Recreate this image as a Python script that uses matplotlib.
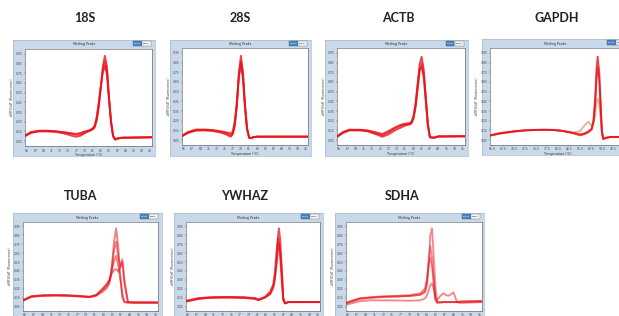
import matplotlib
matplotlib.use('Agg')
import matplotlib.pyplot as plt
from matplotlib.patches import Rectangle
import numpy as np

# ---------------- data (normalised -dF/dT melt peaks) ----------------
genes = ['18S', '28S', 'ACTB', 'GAPDH', 'TUBA', 'YWHAZ', 'SDHA']

t_18s = [64.5, 66, 68, 70, 72, 74, 76, 77, 78, 79, 80, 81, 81.5, 82, 82.5, 83, 83.5, 84, 84.5, 85, 85.5, 86, 86.5, 87, 88, 95.5]
r_18s_a = [0.105, 0.14, 0.155, 0.155, 0.15, 0.14, 0.125, 0.115, 0.12, 0.14, 0.15, 0.17, 0.19, 0.26, 0.4, 0.6, 0.82, 0.93, 0.82, 0.5, 0.25, 0.1, 0.065, 0.075, 0.085, 0.09]
r_18s_b = [0.1, 0.135, 0.15, 0.15, 0.145, 0.13, 0.105, 0.095, 0.105, 0.13, 0.155, 0.175, 0.2, 0.28, 0.42, 0.6, 0.78, 0.87, 0.78, 0.5, 0.26, 0.11, 0.07, 0.078, 0.085, 0.09]
r_18s_c = [0.11, 0.145, 0.158, 0.158, 0.152, 0.142, 0.13, 0.125, 0.135, 0.15, 0.16, 0.18, 0.21, 0.3, 0.45, 0.62, 0.76, 0.82, 0.74, 0.48, 0.24, 0.1, 0.068, 0.076, 0.085, 0.09]

t_28s = [64.5, 66, 68, 70, 72, 74, 75, 76, 76.5, 77, 77.5, 78, 78.5, 79, 79.5, 80, 80.5, 81, 81.5, 82, 83, 85, 95.5]
r_28s_a = [0.093, 0.13, 0.155, 0.155, 0.15, 0.135, 0.125, 0.11, 0.1, 0.12, 0.22, 0.42, 0.75, 0.92, 0.75, 0.42, 0.18, 0.075, 0.07, 0.08, 0.086, 0.086, 0.086]
r_28s_b = [0.09, 0.125, 0.148, 0.15, 0.145, 0.128, 0.115, 0.095, 0.085, 0.11, 0.2, 0.4, 0.7, 0.86, 0.72, 0.4, 0.17, 0.075, 0.07, 0.08, 0.086, 0.086, 0.086]
r_28s_c = [0.097, 0.135, 0.16, 0.16, 0.155, 0.142, 0.135, 0.125, 0.12, 0.14, 0.25, 0.45, 0.72, 0.82, 0.68, 0.38, 0.16, 0.08, 0.072, 0.08, 0.086, 0.086, 0.086]

t_actb = [64.5, 66, 67.5, 70, 72, 74, 75.5, 77, 78.5, 80, 81, 82, 82.5, 83, 83.5, 84, 84.5, 85, 85.5, 86, 86.5, 87, 88, 89, 95.5]
r_actb_a = [0.086, 0.13, 0.155, 0.155, 0.145, 0.12, 0.1, 0.13, 0.17, 0.2, 0.21, 0.22, 0.23, 0.28, 0.4, 0.6, 0.83, 0.91, 0.78, 0.5, 0.22, 0.08, 0.075, 0.088, 0.09]
r_actb_b = [0.083, 0.125, 0.15, 0.15, 0.14, 0.11, 0.085, 0.11, 0.15, 0.18, 0.2, 0.21, 0.22, 0.27, 0.38, 0.56, 0.76, 0.84, 0.74, 0.48, 0.21, 0.08, 0.075, 0.088, 0.09]
r_actb_c = [0.09, 0.135, 0.158, 0.158, 0.15, 0.13, 0.115, 0.145, 0.18, 0.21, 0.22, 0.225, 0.235, 0.29, 0.42, 0.62, 0.78, 0.8, 0.7, 0.45, 0.2, 0.08, 0.075, 0.088, 0.09]

t_gapdh = [64.5, 67, 70, 72.5, 75.1, 77, 78.9, 81, 83.5, 85.0, 86, 86.9, 87.7, 88.1, 88.5, 88.8, 89.05, 89.4, 89.7, 90.0, 90.3, 91.1, 92, 95.5]
r_gapdh_a = [0.097, 0.12, 0.138, 0.15, 0.155, 0.156, 0.155, 0.145, 0.12, 0.1, 0.11, 0.13, 0.16, 0.25, 0.5, 0.8, 0.91, 0.75, 0.45, 0.15, 0.065, 0.075, 0.083, 0.083]
r_gapdh_b = [0.1, 0.125, 0.142, 0.152, 0.157, 0.158, 0.156, 0.146, 0.125, 0.11, 0.12, 0.14, 0.17, 0.25, 0.45, 0.7, 0.8, 0.68, 0.4, 0.14, 0.06, 0.075, 0.083, 0.083]
r_gapdh_c = [0.095, 0.12, 0.14, 0.15, 0.155, 0.156, 0.154, 0.145, 0.13, 0.14, 0.2, 0.24, 0.2, 0.22, 0.32, 0.44, 0.48, 0.42, 0.28, 0.12, 0.07, 0.078, 0.083, 0.083]

t_tuba = [64.5, 66.4, 69, 72, 74.5, 77, 79.8, 81.3, 82.9, 83.8, 84.4, 84.9, 85.4, 85.9, 86.4, 86.9, 87.3, 87.8, 88.6, 90, 95.5]
r_tuba_a = [0.12, 0.165, 0.175, 0.178, 0.176, 0.17, 0.157, 0.17, 0.22, 0.26, 0.32, 0.5, 0.78, 0.93, 0.7, 0.35, 0.15, 0.1, 0.095, 0.095, 0.095]
r_tuba_b = [0.12, 0.16, 0.172, 0.175, 0.172, 0.165, 0.16, 0.18, 0.24, 0.28, 0.34, 0.48, 0.68, 0.78, 0.6, 0.5, 0.55, 0.3, 0.1, 0.095, 0.095]
r_tuba_c = [0.115, 0.16, 0.17, 0.172, 0.17, 0.165, 0.155, 0.175, 0.25, 0.3, 0.35, 0.45, 0.56, 0.62, 0.5, 0.35, 0.2, 0.1, 0.095, 0.095, 0.095]
r_tuba_d = [0.12, 0.165, 0.178, 0.18, 0.178, 0.17, 0.16, 0.18, 0.26, 0.31, 0.36, 0.42, 0.46, 0.47, 0.44, 0.5, 0.58, 0.35, 0.1, 0.095, 0.095]

t_ywhaz = [64.5, 67.4, 70, 72.5, 75.1, 78, 80.5, 81.3, 82.8, 84, 84.7, 85.1, 85.5, 85.8, 86.0, 86.3, 86.7, 87.0, 87.4, 88.2, 95.5]
r_ywhaz_a = [0.11, 0.14, 0.15, 0.153, 0.154, 0.15, 0.14, 0.125, 0.15, 0.19, 0.26, 0.38, 0.6, 0.85, 0.93, 0.8, 0.45, 0.15, 0.085, 0.1, 0.1]
r_ywhaz_b = [0.105, 0.135, 0.148, 0.15, 0.15, 0.146, 0.135, 0.12, 0.155, 0.2, 0.28, 0.38, 0.55, 0.7, 0.76, 0.66, 0.4, 0.14, 0.085, 0.1, 0.1]
r_ywhaz_c = [0.115, 0.145, 0.155, 0.158, 0.158, 0.155, 0.145, 0.13, 0.16, 0.22, 0.3, 0.45, 0.7, 0.82, 0.8, 0.6, 0.3, 0.12, 0.09, 0.1, 0.1]

t_sdha = [64.5, 67.7, 70, 73, 76.1, 79, 81.4, 82.5, 83.0, 83.4, 83.7, 84.1, 84.5, 84.9, 85.3, 86, 86.7, 87.3, 87.9, 88.5, 89, 89.8, 90.5, 95.5]
r_sdha_a = [0.09, 0.14, 0.15, 0.16, 0.165, 0.17, 0.18, 0.21, 0.3, 0.55, 0.85, 0.93, 0.6, 0.25, 0.1, 0.095, 0.1, 0.1, 0.1, 0.1, 0.1, 0.1, 0.105, 0.11]
r_sdha_b = [0.085, 0.135, 0.148, 0.158, 0.162, 0.168, 0.185, 0.22, 0.35, 0.6, 0.73, 0.6, 0.35, 0.15, 0.12, 0.17, 0.2, 0.18, 0.17, 0.19, 0.21, 0.1, 0.09, 0.1]
r_sdha_c = [0.095, 0.145, 0.155, 0.165, 0.17, 0.178, 0.2, 0.25, 0.38, 0.55, 0.6, 0.5, 0.3, 0.13, 0.1, 0.1, 0.1, 0.1, 0.1, 0.1, 0.1, 0.1, 0.105, 0.11]
r_sdha_d = [0.07, 0.11, 0.12, 0.12, 0.118, 0.115, 0.12, 0.14, 0.18, 0.24, 0.29, 0.31, 0.25, 0.12, 0.09, 0.095, 0.1, 0.1, 0.1, 0.1, 0.1, 0.1, 0.105, 0.11]

temps = {'18S': t_18s, '28S': t_28s, 'ACTB': t_actb, 'GAPDH': t_gapdh,
         'TUBA': t_tuba, 'YWHAZ': t_ywhaz, 'SDHA': t_sdha}
reps = {'18S': [r_18s_a, r_18s_b, r_18s_c],
        '28S': [r_28s_a, r_28s_b, r_28s_c],
        'ACTB': [r_actb_a, r_actb_b, r_actb_c],
        'GAPDH': [r_gapdh_c, r_gapdh_b, r_gapdh_a],
        'TUBA': [r_tuba_a, r_tuba_b, r_tuba_c, r_tuba_d],
        'YWHAZ': [r_ywhaz_a, r_ywhaz_b, r_ywhaz_c],
        'SDHA': [r_sdha_a, r_sdha_b, r_sdha_c, r_sdha_d]}

# ---------------- layout (pixels) ----------------
W, H = 619, 316
layout = {
    '18S':   dict(title=(85, 18),   frame=(13, 40, 155, 156),  plot=(25, 49, 152, 146)),
    '28S':   dict(title=(240, 18),  frame=(170, 40, 311, 156), plot=(182, 48, 308, 145)),
    'ACTB':  dict(title=(398, 18),  frame=(325, 40, 468, 156), plot=(337, 48, 465, 145)),
    'GAPDH': dict(title=(557, 18),  frame=(482, 39, 629, 155), plot=(490, 48, 626, 145)),
    'TUBA':  dict(title=(81, 196),  frame=(13, 213, 162, 330), plot=(23, 222, 158, 311)),
    'YWHAZ': dict(title=(245, 196), frame=(174, 213, 323, 330), plot=(186, 222, 320, 311)),
    'SDHA':  dict(title=(402, 196), frame=(335, 213, 484, 330), plot=(346, 222, 482, 311)),
}
line_alpha = {'18S': 0.8, '28S': 0.8, 'ACTB': 0.8, 'GAPDH': 0.8,
              'TUBA': 0.55, 'YWHAZ': 0.75, 'SDHA': 0.5}

fig = plt.figure(figsize=(W / 100, H / 100), dpi=100)
fig.patch.set_facecolor('white')


def frac(x0, y0, x1, y1):
    return [x0 / W, 1 - y1 / H, (x1 - x0) / W, (y1 - y0) / H]


def box(x0, y0, x1, y1, fc, ec):
    fig.add_artist(Rectangle((x0 / W, 1 - y1 / H), (x1 - x0) / W, (y1 - y0) / H,
                             transform=fig.transFigure, facecolor=fc,
                             edgecolor=ec, lw=0.3, zorder=5))


for g in genes:
    L = layout[g]
    fx0, fy0, fx1, fy1 = L['frame']
    fr = fig.add_axes(frac(*L['frame']))
    fr.set_facecolor('#c9d9e9')
    fr.set_xticks([]); fr.set_yticks([])
    for s in fr.spines.values():
        s.set_color('#a7bccf'); s.set_linewidth(0.5)

    fig.text(L['title'][0] / W, 1 - L['title'][1] / H, g, ha='center', va='center',
             fontsize=9, fontweight='bold', family='Lato', color='#222222')
    fig.text((fx0 + fx1) / 2 / W, 1 - (fy0 + 4.5) / H, 'Melting Peaks', ha='center',
             va='center', fontsize=2.3, color='#333333')
    # Select / Zoom buttons
    box(fx1 - 22, fy0 + 1.2, fx1 - 13.5, fy0 + 6, '#4d84bd', '#2c5d8f')
    box(fx1 - 13, fy0 + 1.2, fx1 - 4.5, fy0 + 6, '#f4f4f4', '#777777')
    fig.text((fx1 - 17.75) / W, 1 - (fy0 + 3.6) / H, 'Select', ha='center', va='center',
             fontsize=1.6, color='white', zorder=6)
    fig.text((fx1 - 8.75) / W, 1 - (fy0 + 3.6) / H, 'Zoom', ha='center', va='center',
             fontsize=1.6, color='#222222', zorder=6)

    ax = fig.add_axes(frac(*L['plot']))
    ax.set_facecolor('white')
    t = temps[g]
    for i, r in enumerate(reps[g]):
        col = '#e8141c'
        if g == 'GAPDH' and i == 0:
            col = '#d9a27c'
        ax.plot(t, r, color=col, lw=1.35, alpha=line_alpha[g],
                solid_joinstyle='round', solid_capstyle='round')
    ax.set_xlim(64.5, 95.5)
    ax.set_ylim(0, 1)
    step = 2.5 if g == 'GAPDH' else 2
    ax.set_xticks(np.arange(65, 95.6, step))
    ax.set_yticks(np.arange(0.05, 1.0, 0.1))
    ax.yaxis.set_major_formatter(plt.FormatStrFormatter('%.2f'))
    ax.tick_params(length=1, width=0.3, pad=0.8, labelsize=2.2, colors='#444444')
    ax.set_xlabel('Temperature (°C)', fontsize=2.3, labelpad=0.6, color='#333333')
    ax.set_ylabel('-d(RFU)/dT (Fluorescence)', fontsize=2.2, labelpad=0.8, color='#333333')
    for s in ax.spines.values():
        s.set_color('#555555'); s.set_linewidth(0.4)

fig.savefig('out.png', dpi=100, facecolor='white')
